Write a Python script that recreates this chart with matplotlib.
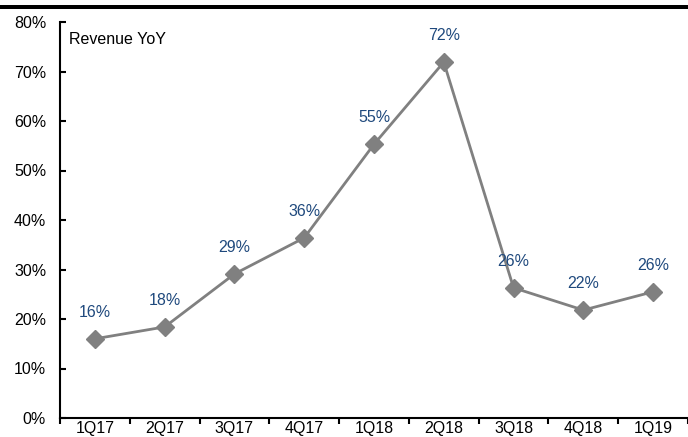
import numpy as np
import matplotlib
matplotlib.use('Agg')
import matplotlib.pyplot as plt
from matplotlib.patches import Rectangle

plt.rcParams['font.family'] = ['Liberation Sans', 'DejaVu Sans']

quarters = ['1Q17', '2Q17', '3Q17', '4Q17', '1Q18', '2Q18', '3Q18', '4Q18', '1Q19']
revenue_yoy = [16.0, 18.4, 29.1, 36.4, 55.3, 71.9, 26.3, 21.8, 25.5]
label_text = ['16%', '18%', '29%', '36%', '55%', '72%', '26%', '22%', '26%']

fig = plt.figure(figsize=(6.88, 4.37), dpi=100)
ax = fig.add_axes([60 / 688, 19 / 437, 628 / 688, 396 / 437])

x = np.arange(len(quarters))
ax.plot(x, revenue_yoy, color='#808080', linewidth=2, marker='D',
        markersize=9, markerfacecolor='#808080', markeredgecolor='#808080')

for xi, yi, t in zip(x, revenue_yoy, label_text):
    ax.annotate(t, (xi, yi), xytext=(0, 19), textcoords='offset points',
                ha='center', va='center', fontsize=11.5, color='#1F497D')

ax.set_xlim(-0.5, len(quarters) - 0.5)
ax.set_ylim(0, 80)
ax.set_yticks(np.arange(0, 81, 10))
ax.set_yticklabels([f'{v}%' for v in range(0, 81, 10)], fontsize=11.5)

ax.set_xticks(x)
ax.set_xticklabels(quarters, fontsize=11.5)
ax.set_xticks(np.arange(-0.5, len(quarters), 1), minor=True)
ax.tick_params(axis='x', which='major', length=0, pad=2)
ax.tick_params(axis='x', which='minor', direction='out', length=4, width=1.5)
ax.tick_params(axis='y', direction='in', length=4, width=1.5, pad=10)

for s in ['top', 'right']:
    ax.spines[s].set_visible(False)
for s in ['left', 'bottom']:
    ax.spines[s].set_linewidth(1.5)

ax.text(0.015, 0.975, 'Revenue YoY', transform=ax.transAxes, ha='left', va='top',
        fontsize=11.5)

# thick rule along the top of the figure
fig.add_artist(Rectangle((0, 1 - 9 / 437), 1, 4 / 437, transform=fig.transFigure,
                         color='black', linewidth=0))

plt.savefig('out.png', dpi=100)
